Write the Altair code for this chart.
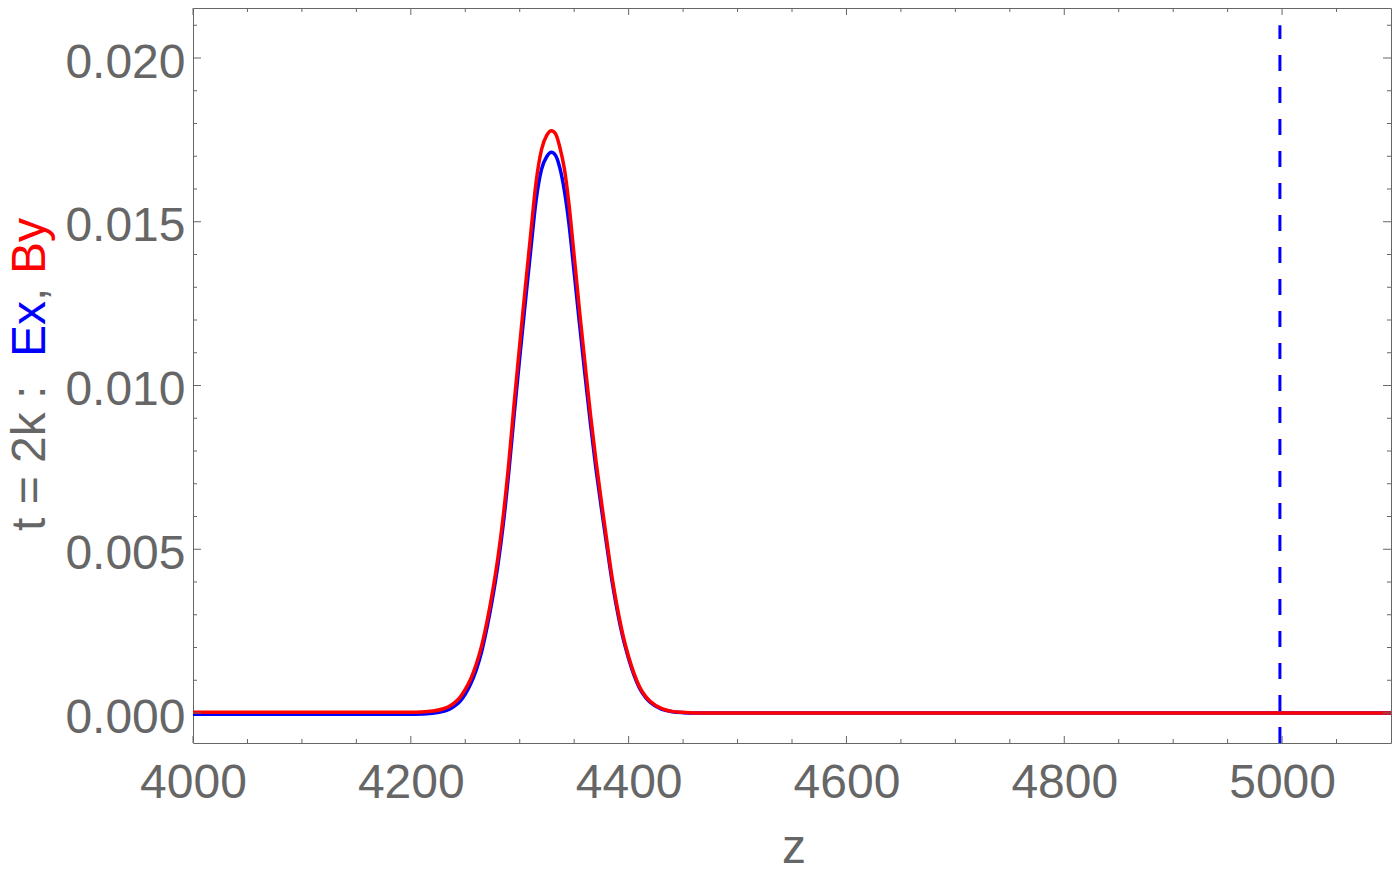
import altair as alt
import pandas as pd

# ---- data ----
z = [4000, 4050, 4100, 4150, 4200, 4210, 4220, 4230, 4235, 4240,
     4245, 4250, 4255, 4260, 4265, 4270, 4275, 4280, 4285, 4290,
     4295, 4300, 4305, 4310, 4315, 4320, 4325, 4329, 4333, 4337,
     4341, 4345, 4350, 4355, 4360, 4365, 4370, 4375, 4380, 4385,
     4390, 4395, 4400, 4405, 4410, 4415, 4420, 4430, 4440, 4450,
     4460, 4500, 4600, 4700, 4800, 4900, 5000, 5100]

by = [0.00002, 0.00002, 0.00002, 0.00002, 0.00002, 0.00003, 0.00006, 0.00013, 0.00020, 0.00031,
      0.00047, 0.00072, 0.00104, 0.00148, 0.00205, 0.00280, 0.00370, 0.00475, 0.00605, 0.00765,
      0.00950, 0.01125, 0.01295, 0.01460, 0.01620, 0.01720, 0.01765, 0.01778, 0.01768, 0.01725,
      0.01662, 0.01560, 0.01395, 0.01225, 0.01065, 0.00910, 0.00770, 0.00645, 0.00525, 0.00410,
      0.00315, 0.00235, 0.00172, 0.00120, 0.00080, 0.00053, 0.00035, 0.00014, 0.00005, 0.00002,
      0.0, 0.0, 0.0, 0.0, 0.0, 0.0, 0.0, 0.0]

ex = [-0.00004, -0.00004, -0.00004, -0.00004, -0.00004, -0.00003, -0.00001, 0.00005, 0.00011, 0.00021,
      0.00035, 0.00058, 0.00089, 0.00131, 0.00187, 0.00262, 0.00350, 0.00453, 0.00580, 0.00737,
      0.00915, 0.01085, 0.01250, 0.01410, 0.01565, 0.01660, 0.01700, 0.01712, 0.01702, 0.01662,
      0.01595, 0.01500, 0.01345, 0.01185, 0.01030, 0.00882, 0.00746, 0.00625, 0.00510, 0.00398,
      0.00305, 0.00227, 0.00166, 0.00115, 0.00076, 0.00050, 0.00032, 0.00012, 0.00004, 0.00001,
      0.0, 0.0, 0.0, 0.0, 0.0, 0.0, 0.0, 0.0]

marker_z = [4998]
marker_bottom = [-0.000916]
marker_top = [0.021]

x_major = [4000, 4200, 4400, 4600, 4800, 5000]
x_minor = [4050, 4100, 4150, 4250, 4300, 4350, 4450, 4500, 4550, 4650,
           4700, 4750, 4850, 4900, 4950, 5050]
y_major = [0.0, 0.005, 0.010, 0.015, 0.020]
y_minor = [0.001, 0.002, 0.003, 0.004, 0.006, 0.007, 0.008, 0.009, 0.011, 0.012,
           0.013, 0.014, 0.016, 0.017, 0.018, 0.019, 0.021]

title_parts = ["t = 2k :", "Ex", ",", "By"]
x_title = "z"

# ---- styling ----
W, H = 1198, 735
GREY = "#666666"
FONT = "Liberation Sans"
xs = alt.Scale(domain=[4000, 5100], nice=False, zero=False)
ys = alt.Scale(domain=[-0.000916, 0.021527], nice=False, zero=False)

xaxis = alt.Axis(values=x_major, format="d", ticks=False, domain=False, grid=False,
                 labelFontSize=48, labelColor=GREY, labelFont=FONT, labelPadding=16,
                 labelFlush=False, labelOverlap=False, title=None)
yaxis = alt.Axis(values=y_major, format=".3f", ticks=False, domain=False, grid=False,
                 labelFontSize=48, labelColor=GREY, labelFont=FONT, labelPadding=8,
                 labelOffset=5, labelFlush=False, labelOverlap=False, title=None)

df_ex = pd.DataFrame({"z": z, "v": ex})
df_by = pd.DataFrame({"z": z, "v": by})

ex_line = alt.Chart(df_ex).mark_line(color="#0000FF", strokeWidth=3.5, interpolate="monotone", clip=True).encode(
    x=alt.X("z:Q", scale=xs, axis=xaxis),
    y=alt.Y("v:Q", scale=ys, axis=yaxis),
)
by_line = alt.Chart(df_by).mark_line(color="#FF0000", strokeWidth=3.5, interpolate="monotone", clip=True).encode(
    x=alt.X("z:Q", scale=xs, axis=xaxis),
    y=alt.Y("v:Q", scale=ys, axis=yaxis),
)

df_marker = pd.DataFrame({"z": marker_z, "y0": marker_bottom, "y1": marker_top})
marker = alt.Chart(df_marker).mark_rule(color="#0000FF", strokeWidth=3, strokeDash=[16, 16]).encode(
    x=alt.X("z:Q", scale=xs, axis=xaxis),
    y=alt.Y("y0:Q", scale=ys, axis=yaxis),
    y2="y1:Q",
)

def xticks(vals, length):
    d = pd.DataFrame({"z": vals})
    bot = alt.Chart(d).mark_rule(color=GREY, strokeWidth=1).encode(
        x=alt.X("z:Q", scale=xs, axis=xaxis), y=alt.value(H), y2=alt.value(H - length))
    top = alt.Chart(d).mark_rule(color=GREY, strokeWidth=1).encode(
        x=alt.X("z:Q", scale=xs, axis=xaxis), y=alt.value(0), y2=alt.value(length))
    return [bot, top]

def yticks(vals, length):
    d = pd.DataFrame({"v": vals})
    left = alt.Chart(d).mark_rule(color=GREY, strokeWidth=1).encode(
        y=alt.Y("v:Q", scale=ys, axis=yaxis), x=alt.value(0), x2=alt.value(length))
    right = alt.Chart(d).mark_rule(color=GREY, strokeWidth=1).encode(
        y=alt.Y("v:Q", scale=ys, axis=yaxis), x=alt.value(W), x2=alt.value(W - length))
    return [left, right]

tick_layers = xticks(x_major, 7) + xticks(x_minor, 4) + yticks(y_major, 8) + yticks(y_minor, 4)

# y-axis title made of coloured pieces
part_colors = [GREY, "#0000FF", GREY, "#FF0000"]
part_pos = [523, 349, 293, 266]
title_layers = []
for txt, col, pos in zip(title_parts, part_colors, part_pos):
    title_layers.append(
        alt.Chart(pd.DataFrame({"t": [txt]})).mark_text(
            angle=270, align="left", baseline="alphabetic", fontSize=48, font=FONT, color=col
        ).encode(text="t:N", x=alt.value(-148), y=alt.value(pos))
    )

xtitle = alt.Chart(pd.DataFrame({"t": [x_title]})).mark_text(
    align="center", baseline="alphabetic", fontSize=48, font=FONT, color=GREY
).encode(text="t:N", x=alt.value(601), y=alt.value(855))

chart = alt.layer(
    ex_line, by_line, marker, *tick_layers, *title_layers, xtitle
).properties(
    width=W, height=H,
    autosize=alt.AutoSizeParams(type="none"),
    padding={"left": 185, "top": 0, "right": 1, "bottom": 122},
    background="white",
).configure_view(stroke=GREY, strokeWidth=1)

chart.save("out.html", embed_options={"renderer": "svg", "actions": False})
